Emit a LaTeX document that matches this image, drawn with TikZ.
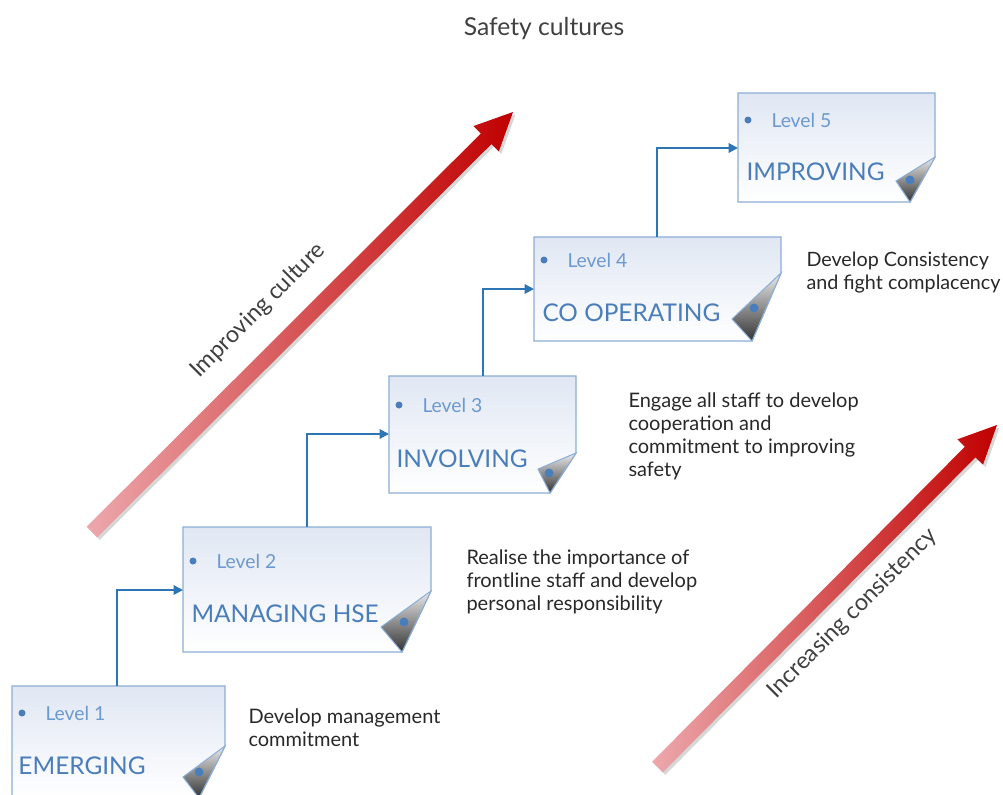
\documentclass[tikz,border=0pt]{standalone}
\usepackage{fontspec}
\setmainfont{Lato}
\usetikzlibrary{arrows.meta}

\definecolor{linkblue}{RGB}{46,117,182}
\definecolor{boxedge}{RGB}{140,174,214}
\definecolor{boxtop}{RGB}{224,231,243}
\definecolor{leveltxt}{RGB}{108,153,208}
\definecolor{titletxt}{RGB}{74,126,187}
\definecolor{desctxt}{RGB}{40,40,40}
\definecolor{arrowlight}{RGB}{236,168,172}
\definecolor{arrowmid}{RGB}{214,72,78}
\definecolor{arrowdark}{RGB}{192,0,0}

\tikzset{every picture/.style={line width=0.75pt}}
\tikzset{
  paper/.style={draw=boxedge, line width=1pt, top color=boxtop, bottom color=white},
  fold/.style={draw=boxedge, line width=0.75pt, top color=black!8, bottom color=black!80},
  redarrow/.style={left color=arrowlight, middle color=arrowmid, right color=arrowdark},
  link/.style={draw=linkblue, line width=1.5pt, -{Triangle[length=7pt,width=7pt]}},
  lvltxt/.style={anchor=base west, inner sep=0pt, text=leveltxt, font=\fontsize{14.5}{17}\selectfont},
  ttltxt/.style={anchor=base west, inner sep=0pt, text=titletxt, font=\fontsize{18.3}{22}\selectfont},
  desctxt/.style={anchor=north west, inner sep=0pt, align=left, text=desctxt, font=\fontsize{15}{17.25}\selectfont},
  sidetxt/.style={anchor=base, inner sep=0pt, rotate=45, text=black!75, font=\fontsize{17.5}{20}\selectfont}
}

\begin{document}
\begin{tikzpicture}[x=0.75pt,y=0.75pt,yscale=-1,xscale=1]
\useasboundingbox (0,0) rectangle (1003,794);
\clip (0,0) rectangle (1003,794);

% Text Node
\draw (544,35) node [anchor=base, inner sep=0pt, text=black!75, font=\fontsize{18.5}{22}\selectfont] (head) {Safety cultures};

%Shape: Red Arrow [improving culture]
\fill [black!35, opacity=0.45, shift={(2.5,2.5)}] (86.7,526.7) -- (480.8,133.5) -- (473.4,126.1) -- (513,112) -- (498.8,151.5) -- (491.4,144.1) -- (97.3,537.3) -- cycle ;
\shade [redarrow] (86.7,526.7) -- (480.8,133.5) -- (473.4,126.1) -- (513,112) -- (498.8,151.5) -- (491.4,144.1) -- (97.3,537.3) -- cycle ;
%Shape: Red Arrow [increasing consistency]
\fill [black!35, opacity=0.45, shift={(2.5,2.5)}] (652.2,761.7) -- (964.9,446.7) -- (957.4,439.3) -- (997,425) -- (983,464.7) -- (975.5,457.3) -- (662.8,772.3) -- cycle ;
\shade [redarrow] (652.2,761.7) -- (964.9,446.7) -- (957.4,439.3) -- (997,425) -- (983,464.7) -- (975.5,457.3) -- (662.8,772.3) -- cycle ;

% Text Node
\draw (263,315) node [sidetxt] (culture) {Improving culture};
% Text Node
\draw (857,618) node [sidetxt] (consist) {Increasing consistency};

%Shape: Paper [level 1]
\path [paper] (12,686) -- (225,686) -- (225,746) -- (199,798) -- (12,798) -- cycle ;
\path [fold] (225,746) -- (183,777) -- (199,798) -- cycle ;
\fill [titletxt] (199,772) circle (4.5) ;
%Shape: Paper [level 2]
\path [paper] (183,527) -- (431,527) -- (431,591) -- (402,652) -- (183,652) -- cycle ;
\path [fold] (431,591) -- (381,627) -- (402,652) -- cycle ;
\fill [titletxt] (404,622) circle (4.5) ;
%Shape: Paper [level 3]
\path [paper] (389,376) -- (576,376) -- (576,453) -- (550,493) -- (389,493) -- cycle ;
\path [fold] (576,453) -- (538,469) -- (550,493) -- cycle ;
\fill [titletxt] (549,473) circle (4.5) ;
%Shape: Paper [level 4]
\path [paper] (534,237) -- (781,237) -- (781,273) -- (752,341) -- (534,341) -- cycle ;
\path [fold] (781,273) -- (732,319) -- (752,341) -- cycle ;
\fill [titletxt] (754,308) circle (4.5) ;
%Shape: Paper [level 5]
\path [paper] (738,93) -- (935,93) -- (935,157) -- (910,202) -- (738,202) -- cycle ;
\path [fold] (935,157) -- (896,181) -- (910,202) -- cycle ;
\fill [titletxt] (910,180) circle (4.5) ;

% Bullets
\fill [titletxt] (22,713) circle (3.5) ;
\fill [titletxt] (193,561) circle (3.5) ;
\fill [titletxt] (399,405) circle (3.5) ;
\fill [titletxt] (544,260) circle (3.5) ;
\fill [titletxt] (748,120) circle (3.5) ;

% Text Node
\draw (45,720) node [lvltxt] (lvl1) {Level 1};
\draw (18,774) node [ttltxt] (ttl1) {EMERGING};
% Text Node
\draw (216,568) node [lvltxt] (lvl2) {Level 2};
\draw (191,622) node [ttltxt] (ttl2) {MANAGING HSE};
% Text Node
\draw (422,412) node [lvltxt] (lvl3) {Level 3};
\draw (396,467) node [ttltxt] (ttl3) {INVOLVING};
% Text Node
\draw (567,267) node [lvltxt] (lvl4) {Level 4};
\draw (542,321) node [ttltxt] (ttl4) {CO OPERATING};
% Text Node
\draw (771,127) node [lvltxt] (lvl5) {Level 5};
\draw (746,180) node [ttltxt] (ttl5) {IMPROVING};

% Connectors
\coordinate (top1) at (117,686);
\coordinate (in2) at (183,590);
\coordinate (top2) at (307,527);
\coordinate (in3) at (389,434);
\coordinate (top3) at (483,376);
\coordinate (in4) at (534,289);
\coordinate (top4) at (657,237);
\coordinate (in5) at (738,148);
\draw [link] (top1) |- (in2) ;
\draw [link] (top2) |- (in3) ;
\draw [link] (top3) |- (in4) ;
\draw [link] (top4) |- (in5) ;

% Text Node
\draw (248,708) node [desctxt] (desc1) {Develop management\\commitment};
% Text Node
\draw (466,549) node [desctxt] (desc2) {Realise the importance of\\frontline staff and develop\\personal responsibility};
% Text Node
\draw (628,392) node [desctxt] (desc3) {Engage all staff to develop\\cooperation and\\commitment to improving\\safety};
% Text Node
\draw (806,251) node [desctxt, font=\fontsize{14.8}{17.25}\selectfont] (desc4) {Develop Consistency\\and fight complacency};

\end{tikzpicture}
\end{document}
